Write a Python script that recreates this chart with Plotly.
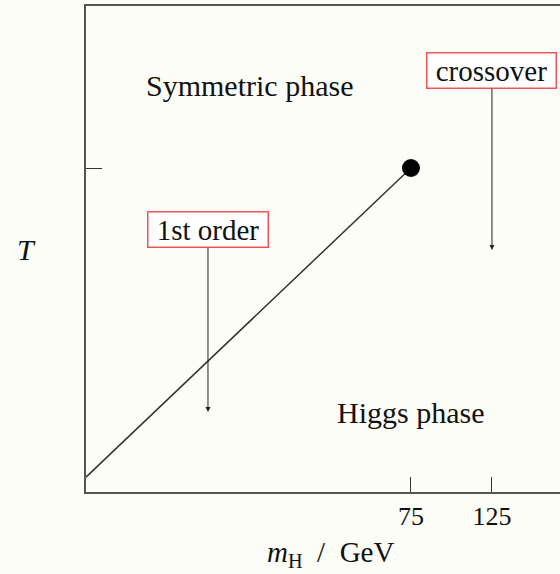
import plotly.graph_objects as go

# Phase-boundary line (m_H in GeV, T in units of the endpoint temperature)
mh_line = [-125.6, 75]
t_line = [0.046, 1.0]

# Critical endpoint
mh_end = [75]
t_end = [1.0]

# Axis ticks
x_tickvals = [75, 125]
x_ticktext = ["75", "125"]
y_tickvals = [1.0]

# Boxed labels with arrows: (text, label x, label y, arrow tip y)
box_labels = ["crossover", "1st order"]
box_x = [125, -50.3]
box_y = [1.30, 0.809]
arrow_tip_y = [0.747, 0.247]

# Region labels
region_labels = ["Symmetric phase", "Higgs phase"]
region_x = [-24.5, 75]
region_y = [1.255, 0.245]

X_RANGE = [-125.6, 167.0]
Y_RANGE = [0.0, 1.5]

FONT = "Liberation Serif"
BG = "#fdfdf8"
AXIS = "#555555"
TEXT = "#111111"

fig = go.Figure()

fig.add_trace(go.Scatter(
    x=mh_line, y=t_line, mode="lines",
    line=dict(color="#333333", width=1.5),
    hoverinfo="skip", showlegend=False,
))
fig.add_trace(go.Scatter(
    x=mh_end, y=t_end, mode="markers",
    marker=dict(color="black", size=18),
    hoverinfo="skip", showlegend=False,
))

annotations = []
for txt, x, y, ty in zip(box_labels, box_x, box_y, arrow_tip_y):
    annotations.append(dict(
        x=x, y=ty, xref="x", yref="y",
        ax=x, ay=y, axref="x", ayref="y",
        text="&nbsp;" + txt + "&nbsp;", showarrow=True,
        arrowhead=2, arrowsize=1, arrowwidth=1, arrowcolor="#222222",
        font=dict(family=FONT, size=29, color=TEXT),
        bordercolor="#ee5555", borderwidth=1.5, borderpad=1,
        bgcolor="#ffffff",
    ))
for txt, x, y in zip(region_labels, region_x, region_y):
    annotations.append(dict(
        x=x, y=y, xref="x", yref="y", text=txt, showarrow=False,
        font=dict(family=FONT, size=30, color=TEXT),
    ))
annotations.append(dict(
    x=0.515, y=-0.168, xref="paper", yref="paper",
    text="<i>m</i><sub>H</sub>&nbsp;&nbsp;/&nbsp;&nbsp;GeV", showarrow=False,
    font=dict(family=FONT, size=29, color=TEXT),
))
annotations.append(dict(
    x=-0.126, y=0.50, xref="paper", yref="paper",
    xanchor="center", yanchor="middle",
    text="<i>T</i>", showarrow=False,
    font=dict(family=FONT, size=30, color=TEXT),
))

fig.update_layout(
    width=560, height=574,
    margin=dict(l=86, r=0, t=6, b=82),
    paper_bgcolor=BG, plot_bgcolor=BG,
    annotations=annotations,
    xaxis=dict(
        range=X_RANGE, showgrid=False, zeroline=False,
        showline=True, linecolor=AXIS, linewidth=2, mirror=True,
        ticks="inside", ticklen=15, tickwidth=1, tickcolor="#333333",
        tickvals=x_tickvals, ticktext=x_ticktext,
        tickfont=dict(family=FONT, size=26, color=TEXT),
    ),
    yaxis=dict(
        range=Y_RANGE, showgrid=False, zeroline=False,
        showline=True, linecolor=AXIS, linewidth=2,
        ticks="inside", ticklen=16, tickwidth=1, tickcolor="#333333",
        tickvals=y_tickvals, showticklabels=False,
    ),
)

fig.write_html("out.html")
